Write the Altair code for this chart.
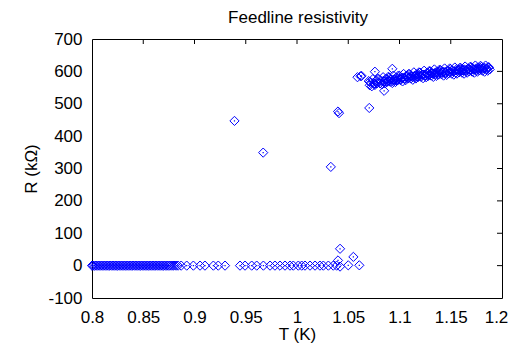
import altair as alt
import pandas as pd

# ---- data ----
# superconducting branch (R ~ 0)
zero_T = [0.800, 0.801, 0.8025, 0.804, 0.8055, 0.807, 0.8085, 0.810, 0.8115, 0.813,
          0.8145, 0.816, 0.8175, 0.819, 0.8205, 0.822, 0.8235, 0.825, 0.8265, 0.828,
          0.8295, 0.831, 0.8325, 0.834, 0.8355, 0.837, 0.8385, 0.840, 0.8415, 0.843,
          0.8445, 0.846, 0.8475, 0.849, 0.8505, 0.852, 0.8535, 0.855, 0.8565, 0.858,
          0.8595, 0.861, 0.8625, 0.864, 0.8655, 0.867, 0.8685, 0.870, 0.8715, 0.873,
          0.8745, 0.876, 0.878, 0.880, 0.882, 0.884, 0.887,
          0.8924, 0.8989, 0.9054, 0.9102, 0.9184, 0.9232, 0.9298, 0.9444, 0.9493, 0.9558,
          0.9607, 0.9672, 0.9737, 0.9785, 0.9834, 0.9883, 0.9932, 0.9964, 1.0013, 1.0046,
          1.0078, 1.0127, 1.0176, 1.0224, 1.0257, 1.0306, 1.0354, 1.0387, 1.0500, 1.0608]
zero_R = [0, 0, 0, 0, 0, 0, 0, 0, 0, 0,
          0, 0, 0, 0, 0, 0, 0, 0, 0, 0,
          0, 0, 0, 0, 0, 0, 0, 0, 0, 0,
          0, 0, 0, 0, 0, 0, 0, 0, 0, 0,
          0, 0, 0, 0, 0, 0, 0, 0, 0, 0,
          0, 0, 0, 0, 0, 0, 0,
          0, 0, 0, 0, 0, 0, 0, 0, 0, 0,
          0, 0, 0, 0, 0, 0, 0, 0, 0, 0,
          0, 0, 0, 0, 0, 0, 0, 0, 1, 1]

# transition outliers
out_T = [0.939, 0.967, 1.033, 1.040, 1.041, 1.042, 1.040, 1.042, 1.055, 1.059,
         1.062, 1.0705, 1.071, 1.076, 1.085, 1.076, 1.093, 1.063]
out_R = [447, 349, 305, 476, 471, 52, 16, -3, 27, 582,
         585, 487, 568, 562, 540, 599, 608, 586]

# normal branch (first pass)
band_T = [1.070, 1.071, 1.072, 1.073, 1.074, 1.075, 1.076, 1.077, 1.078, 1.079,
          1.080, 1.081, 1.082, 1.083, 1.084, 1.085, 1.086, 1.087, 1.088, 1.089,
          1.090, 1.091, 1.092, 1.093, 1.094, 1.095, 1.096, 1.097, 1.098, 1.099,
          1.100, 1.101, 1.102, 1.103, 1.104, 1.105, 1.106, 1.107, 1.108, 1.109,
          1.110, 1.111, 1.112, 1.113, 1.114, 1.115, 1.116, 1.117, 1.118, 1.119,
          1.120, 1.121, 1.122, 1.123, 1.124, 1.125, 1.126, 1.127, 1.128, 1.129,
          1.130, 1.131, 1.132, 1.133, 1.134, 1.135, 1.136, 1.137, 1.138, 1.139,
          1.140, 1.141, 1.142, 1.143, 1.144, 1.145, 1.146, 1.147, 1.148, 1.149,
          1.150, 1.151, 1.152, 1.153, 1.154, 1.155, 1.156, 1.157, 1.158, 1.159,
          1.160, 1.161, 1.162, 1.163, 1.164, 1.165, 1.166, 1.167, 1.168, 1.169,
          1.170, 1.171, 1.172, 1.173, 1.174, 1.175, 1.176, 1.177, 1.178, 1.179,
          1.180, 1.181, 1.182, 1.183, 1.184, 1.185, 1.186, 1.187, 1.188]
band_R = [570, 557, 564, 554, 576, 563, 558, 571, 563, 577,
          576, 563, 570, 560, 582, 569, 563, 577, 568, 583,
          581, 568, 575, 564, 587, 573, 567, 581, 572, 587,
          586, 573, 580, 569, 592, 578, 573, 587, 578, 592,
          591, 578, 585, 574, 597, 583, 578, 591, 582, 597,
          596, 583, 590, 579, 602, 588, 582, 595, 586, 601,
          600, 587, 594, 583, 606, 592, 586, 599, 590, 605,
          604, 591, 597, 587, 609, 595, 589, 602, 594, 609,
          607, 593, 600, 590, 612, 597, 593, 606, 597, 611,
          610, 596, 603, 593, 615, 602, 596, 609, 600, 614,
          613, 599, 606, 596, 618, 605, 599, 612, 603, 617,
          614, 602, 609, 599, 618, 607, 602, 613, 606]

# normal branch (second pass, core)
core_T = [1.085, 1.087, 1.089, 1.091, 1.093, 1.095, 1.097, 1.099, 1.101, 1.103,
          1.105, 1.107, 1.109, 1.111, 1.113, 1.115, 1.117, 1.119, 1.121, 1.123,
          1.125, 1.127, 1.129, 1.131, 1.133, 1.135, 1.137, 1.139, 1.141, 1.143,
          1.145, 1.147, 1.149, 1.151, 1.153, 1.155, 1.157, 1.159, 1.161, 1.163,
          1.165, 1.167, 1.169, 1.171, 1.173, 1.175, 1.177, 1.179, 1.181, 1.183,
          1.185, 1.187]
core_R = [570, 567, 571, 574, 570, 575, 573, 578, 576, 580,
          578, 583, 580, 584, 582, 586, 584, 588, 586, 590,
          588, 592, 590, 594, 592, 596, 594, 598, 596, 599,
          597, 601, 599, 602, 600, 604, 602, 605, 603, 606,
          604, 607, 605, 608, 606, 609, 607, 610, 608, 611,
          609, 612]

x_ticks = [0.8, 0.85, 0.9, 0.95, 1.0, 1.05, 1.1, 1.15, 1.2]
y_ticks = [-100, 0, 100, 200, 300, 400, 500, 600, 700]
x_inner = [0.85, 0.9, 0.95, 1.0, 1.05, 1.1, 1.15]
y_inner = [0, 100, 200, 300, 400, 500, 600]
chart_title = "Feedline resistivity"

df = pd.DataFrame({"T": zero_T + out_T + band_T + core_T,
                   "R": zero_R + out_R + band_R + core_R})

W, H = 410, 259
FONT = "Liberation Sans"
BLUE = "#0000ff"

xs = alt.Scale(domain=[0.8, 1.2], nice=False, zero=False)
ys = alt.Scale(domain=[-100, 700], nice=False, zero=False)

x_axis = alt.Axis(values=x_ticks, tickCount=20, title="T (K)",
                  labelExpr="'' + datum.value",
                  labelBaseline="alphabetic", labelPadding=24,
                  labelOffset={"condition": {"test": "datum.value >= 1.2", "value": -6},
                               "value": 0},
                  titleBaseline="alphabetic",
                  titleX=W / 2, titleY=41.5, titleAnchor="middle")
y_axis = alt.Axis(values=y_ticks, tickCount=20, title="R (kΩ)",
                  labelExpr="'' + datum.value",
                  labelPadding=10,
                  titleBaseline="alphabetic",
                  titleX=-56, titleY=H / 2, titleAnchor="middle", titleAngle=270)

points = alt.Chart(df).mark_point(
    shape="diamond", size=85, filled=False, color=BLUE, strokeWidth=1, opacity=1
).encode(
    x=alt.X("T:Q", scale=xs, axis=x_axis),
    y=alt.Y("R:Q", scale=ys, axis=y_axis),
)

dots = alt.Chart(df).mark_square(size=1.5, color=BLUE, opacity=1).encode(
    x=alt.X("T:Q", scale=xs),
    y=alt.Y("R:Q", scale=ys),
)

top_ticks = alt.Chart(pd.DataFrame({"T": x_inner})).mark_rule(
    color="black", strokeWidth=1
).encode(
    x=alt.X("T:Q", scale=xs),
    y=alt.value(0),
    y2=alt.value(5),
)

right_ticks = alt.Chart(pd.DataFrame({"R": y_inner})).mark_rule(
    color="black", strokeWidth=1
).encode(
    y=alt.Y("R:Q", scale=ys),
    x=alt.value(W - 5),
    x2=alt.value(W),
)

title_text = alt.Chart(pd.DataFrame({"t": [chart_title]})).mark_text(
    font=FONT, fontSize=17, color="black", align="center", baseline="alphabetic"
).encode(
    x=alt.value(W / 2 + 1),
    y=alt.value(-16),
    text="t:N",
)

chart = alt.layer(points, dots, top_ticks, right_ticks, title_text).properties(
    width=W,
    height=H,
    autosize=alt.AutoSizeParams(type="none"),
    padding={"left": 84, "top": 31, "right": 7, "bottom": 46},
).configure_view(
    stroke="black", strokeWidth=1
).configure_axis(
    labelFont=FONT, labelFontSize=17, labelColor="black",
    labelOverlap=False, labelFlush=False, labelBound=False,
    titleFont=FONT, titleFontSize=17, titleFontWeight="normal", titleColor="black",
    ticks=False, tickSize=0, domain=False, grid=False,
)

chart.save("out.html", embed_options={"renderer": "svg", "actions": False})
